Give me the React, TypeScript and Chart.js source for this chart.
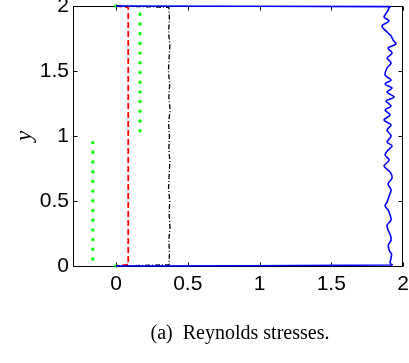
import React, { useEffect, useRef } from "react";
import { Chart, registerables } from "chart.js";

Chart.register(...registerables);

// ---- data ----
const xTicks = [0, 0.5, 1, 1.5, 2];
const yTicks = [0, 0.5, 1, 1.5, 2];
const xRange = [-0.3, 2];
const yRange = [0, 2];

const blueY = [2, 1.995, 1.985, 1.954, 1.915, 1.885, 1.846, 1.8, 1.769, 1.738, 1.708, 1.677, 1.638, 1.6, 1.562, 1.523, 1.469, 1.431, 1.4, 1.369, 1.338, 1.3, 1.269, 1.231, 1.2, 1.162, 1.123, 1.085, 1.046, 1.0, 0.954, 0.923, 0.892, 0.854, 0.815, 0.769, 0.723, 0.677, 0.631, 0.585, 0.538, 0.492, 0.462, 0.431, 0.392, 0.354, 0.315, 0.277, 0.238, 0.2, 0.162, 0.123, 0.092, 0.062, 0.023, 0.008, 0];
const blueX = [0, 1.91, 1.903, 1.889, 1.868, 1.903, 1.854, 1.889, 1.917, 1.931, 1.951, 1.896, 1.924, 1.889, 1.917, 1.889, 1.875, 1.917, 1.875, 1.924, 1.889, 1.938, 1.882, 1.917, 1.875, 1.91, 1.868, 1.917, 1.889, 1.917, 1.889, 1.924, 1.896, 1.875, 1.903, 1.868, 1.91, 1.924, 1.896, 1.917, 1.903, 1.889, 1.875, 1.896, 1.91, 1.917, 1.889, 1.896, 1.912, 1.917, 1.898, 1.903, 1.92, 1.917, 1.91, 1.924, 0];

const blackY = [2, 1.99, 1.9, 1.8, 1.7, 1.6, 1.5, 1.4, 1.3, 1.2, 1.1, 1.0, 0.9, 0.8, 0.7, 0.6, 0.5, 0.4, 0.3, 0.2, 0.1, 0.01, 0];
const blackX = [0, 0.368, 0.372, 0.366, 0.375, 0.37, 0.365, 0.374, 0.368, 0.377, 0.366, 0.372, 0.368, 0.375, 0.37, 0.366, 0.374, 0.37, 0.376, 0.368, 0.372, 0.37, 0];

const redY = [2, 1.99, 0.01, 0];
const redX = [0, 0.085, 0.085, 0];

const greenLowY = [0.054, 0.97];
const greenLowX = [-0.162, -0.162];
const greenHighY = [1.936, 1.03];
const greenHighX = [0.167, 0.167];
const greenWallY = [0, 2];
const greenWallX = [0, 0];

const yLabel = "y";
const caption = "(a)  Reynolds stresses.";

const pts = (xs: number[], ys: number[]) => xs.map((x, i) => ({ x, y: ys[i] }));

const framePlugin = {
  id: "frame",
  beforeDatasetsDraw(chart: any) {
    const { ctx, chartArea: a, scales } = chart;
    const L = Math.round(a.left) + 0.5;
    const R = Math.round(a.right) - 0.5;
    const T = Math.round(a.top) + 0.5;
    const B = Math.round(a.bottom) + 0.5;
    ctx.save();
    ctx.strokeStyle = "#000";
    ctx.lineWidth = 1;
    ctx.strokeRect(L, T, R - L, B - T);
    const tl = 4;
    ctx.beginPath();
    xTicks.forEach((v) => {
      const p = Math.round(scales.x.getPixelForValue(v)) + 0.5;
      ctx.moveTo(p, B);
      ctx.lineTo(p, B - tl);
      ctx.moveTo(p, T);
      ctx.lineTo(p, T + tl);
    });
    yTicks.forEach((v) => {
      const p = Math.round(scales.y.getPixelForValue(v)) + 0.5;
      ctx.moveTo(L, p);
      ctx.lineTo(L + tl, p);
      ctx.moveTo(R, p);
      ctx.lineTo(R - tl, p);
    });
    ctx.stroke();
    ctx.restore();
  },
  afterDraw(chart: any) {
    const { ctx, chartArea: a } = chart;
    ctx.save();
    ctx.fillStyle = "#000";
    // y axis title (rotated)
    ctx.translate(25, (a.top + a.bottom) / 2);
    ctx.rotate(-Math.PI / 2);
    ctx.font = "italic 23px 'Liberation Serif', 'DejaVu Serif', serif";
    ctx.textAlign = "center";
    ctx.textBaseline = "middle";
    ctx.fillText(yLabel, 0, 0);
    ctx.restore();
    // caption
    ctx.save();
    ctx.fillStyle = "#000";
    ctx.font = "20px 'Liberation Serif', 'Times New Roman', serif";
    ctx.textAlign = "center";
    ctx.textBaseline = "alphabetic";
    ctx.fillText(caption, 240, 339);
    ctx.restore();
  },
};

export default function App() {
  const ref = useRef<HTMLCanvasElement | null>(null);
  useEffect(() => {
    if (!ref.current) return;
    const tickFont = { family: "'Liberation Sans', Arial, sans-serif", size: 21 };
    const chart = new Chart(ref.current, {
      type: "scatter",
      data: {
        datasets: [
          {
            data: pts(blueX, blueY),
            showLine: true,
            borderColor: "#0000ff",
            borderWidth: 1.6,
            tension: 0.3,
            pointRadius: 0,
            clip: false,
          } as any,
          {
            data: pts(blackX, blackY),
            showLine: true,
            borderColor: "#000000",
            borderWidth: 1.3,
            borderDash: [5, 2, 1, 2],
            pointRadius: 0,
            clip: false,
          },
          {
            data: pts(redX, redY),
            showLine: true,
            borderColor: "#ff0000",
            borderWidth: 1.8,
            borderDash: [6, 3],
            pointRadius: 0,
            clip: false,
          },
          {
            data: pts(greenLowX, greenLowY),
            showLine: true,
            borderColor: "#00ff00",
            borderWidth: 3.4,
            borderCapStyle: "round",
            borderDash: [0, 9.7],
            pointRadius: 0,
            clip: false,
          },
          {
            data: pts(greenHighX, greenHighY),
            showLine: true,
            borderColor: "#00ff00",
            borderWidth: 3.4,
            borderCapStyle: "round",
            borderDash: [0, 9.7],
            pointRadius: 0,
            clip: false,
          },
          {
            data: pts(greenWallX, greenWallY),
            showLine: false,
            pointRadius: 1.8,
            pointBorderWidth: 0,
            pointBackgroundColor: "#00ff00",
            clip: false,
          },
        ],
      },
      options: {
        responsive: false,
        animation: false,
        devicePixelRatio: 1,
        layout: { padding: { top: 6, right: 6, left: 0, bottom: 0 } },
        plugins: { legend: { display: false }, tooltip: { enabled: false } },
        scales: {
          x: {
            type: "linear",
            min: xRange[0],
            max: xRange[1],
            grid: { display: false, drawTicks: false },
            border: { display: false },
            ticks: {
              font: tickFont,
              color: "#000",
              padding: 6,
              maxRotation: 0,
              autoSkip: false,
              callback: (v: any) => String(v),
            },
            afterBuildTicks: (s: any) => {
              s.ticks = xTicks.map((value) => ({ value }));
            },
            afterFit: (s: any) => {
              s.height = 97;
              s.paddingLeft = 0;
              s.paddingRight = 0;
            },
          },
          y: {
            type: "linear",
            min: yRange[0],
            max: yRange[1],
            grid: { display: false, drawTicks: false },
            border: { display: false },
            ticks: {
              font: tickFont,
              color: "#000",
              padding: 4,
              autoSkip: false,
              callback: (v: any) => String(v),
            },
            afterBuildTicks: (s: any) => {
              s.ticks = yTicks.map((value) => ({ value }));
            },
            afterFit: (s: any) => {
              s.width = 73;
              s.paddingTop = 0;
              s.paddingBottom = 0;
            },
          },
        },
      },
      plugins: [framePlugin],
    });
    return () => chart.destroy();
  }, []);
  return (
    <div style={{ position: "absolute", left: 0, top: 0, width: 409, height: 363, background: "#fff" }}>
      <canvas ref={ref} width={409} height={363} style={{ display: "block" }} />
    </div>
  );
}
